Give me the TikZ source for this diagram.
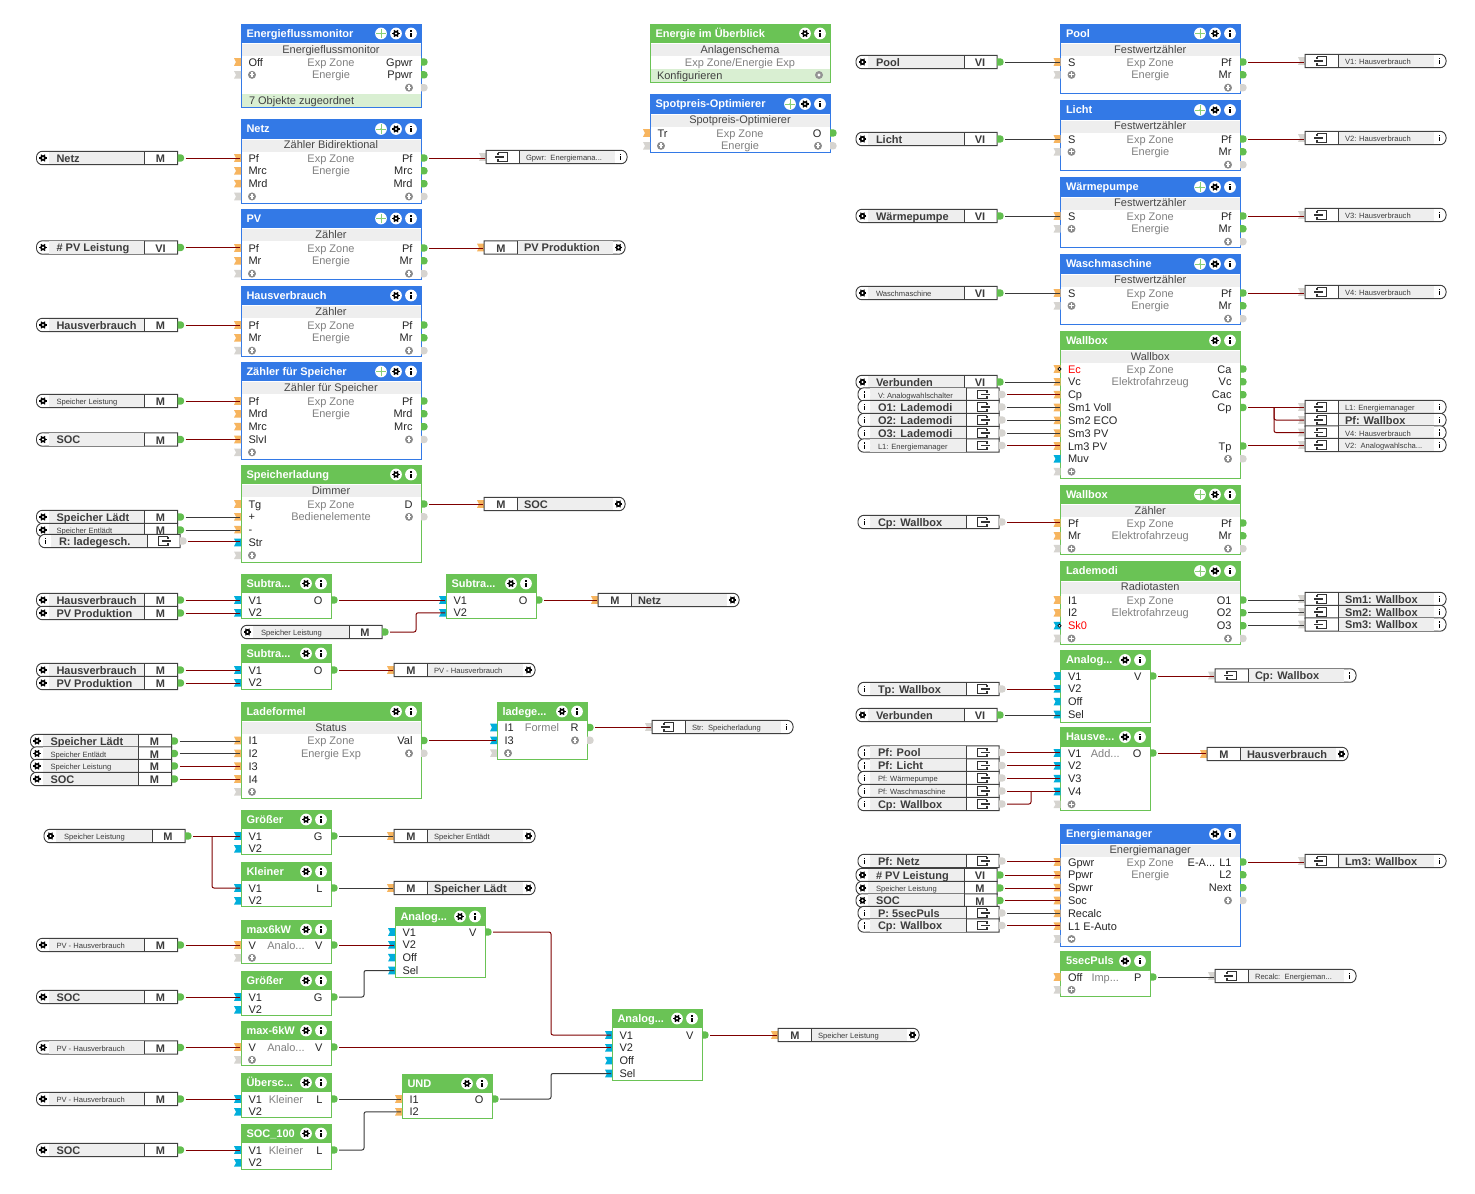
\documentclass[tikz,border=0pt]{standalone}
\usepackage{fontspec}
\setmainfont{Liberation Sans}
\usepackage{amsmath,amssymb}

\definecolor{hdblue}{HTML}{3379E6}
\definecolor{hdgreen}{HTML}{6AC355}
\definecolor{portorange}{HTML}{F7B55F}
\definecolor{portcyan}{HTML}{00AEDB}
\definecolor{portgreen}{HTML}{62BE4F}
\definecolor{portgray}{HTML}{D6D4D0}
\definecolor{bandgray}{HTML}{EEEEEE}
\definecolor{footgreen}{HTML}{D9EFD2}
\definecolor{wirered}{HTML}{7F0000}
\definecolor{wiregray}{HTML}{3A3A3A}
\definecolor{midtext}{HTML}{808080}
\definecolor{tagtext}{HTML}{3C3C3C}
% port kinds: o orange, b cyan, a free (grey), r orange with red label, s cyan with red label
\colorlet{pino}{portorange}\colorlet{pinb}{portcyan}\colorlet{pina}{portgray}
\colorlet{pinr}{portorange}\colorlet{pins}{portcyan}
\colorlet{lblo}{black!85}\colorlet{lblb}{black!85}\colorlet{lbla}{black!85}
\colorlet{lblr}{red}\colorlet{lbls}{red}
\newcommand{\dts}{...}

% small icons
\newcommand{\plusicon}[2]{%
  \fill[black!45] (#1,#2) circle (3pt);
  \fill[white] (#1,#2) +(-1.8pt,-.4pt) rectangle +(1.8pt,.4pt);
  \fill[white] (#1,#2) +(-.4pt,-1.8pt) rectangle +(.4pt,1.8pt);
}
\newcommand{\gearicon}[2]{%
  \fill[white] (#1,#2) circle (4.4pt);
  \fill[black] (#1,#2) circle (2.2pt);
  \draw[black, line width=.8pt] (#1,#2) +(0:2.9pt) -- +(180:2.9pt);
  \draw[black, line width=.8pt] (#1,#2) +(60:2.9pt) -- +(240:2.9pt);
  \draw[black, line width=.8pt] (#1,#2) +(120:2.9pt) -- +(300:2.9pt);
  \fill[white] (#1,#2) circle (.9pt);
}
\newcommand{\infoicon}[2]{%
  \fill[white] (#1,#2) circle (4.4pt);
  \fill[black] (#1,#2) +(-.5pt,-2.3pt) rectangle +(.5pt,.5pt);
  \fill[black] (#1,#2) +(-.5pt,1.3pt) rectangle +(.5pt,2.3pt);
}
\newcommand{\moveicon}[2]{%
  \fill[white] (#1,#2) circle (4.4pt);
  \draw[hdgreen!80, line width=.3pt] (#1,#2) +(-3.4pt,0) -- +(3.4pt,0);
  \draw[hdgreen!80, line width=.3pt] (#1,#2) +(0,-3.4pt) -- +(0,3.4pt);
  \fill[hdgreen!80] (#1,#2) circle (.7pt);
}
\newcommand{\dotport}[3]{%
  \fill[#3] (#1,#2-3.6) [rounded corners=2.2pt] -- (#1+6.5,#2-3.6) -- (#1+6.5,#2+3.6) [sharp corners] -- (#1,#2+3.6) -- cycle;
}
\newcommand{\tagport}[3]{%
  \fill[#3] (#1-7,#2-3.8) -- (#1,#2-3.8) -- (#1,#2+3.8) -- (#1-7,#2+3.8) -- (#1-5,#2) -- cycle;
}

% block: key, left, top, right, bottom, colour, buttons, title, subtitle
\newcommand{\lgblock}[9]{%
  \def\blk{#1}\def\bx{#2}\def\br{#4}\def\bt{#3}
  \pgfmathsetmacro\bc{(#2+#4)/2}
  \fill[white] (#2,#3) rectangle (#4,#5);
  \fill[#6] (#2,#3) rectangle (#4,#3+19);
  \node[blocktitle, anchor=mid west] (#1-title) at (#2+5.5,#3+9.5) {#8};
  \if\relax\detokenize{#9}\relax\else
    \fill[bandgray] (#2,#3+20) rectangle (#4,#3+32);
    \node[blocksub, anchor=mid] (#1-sub) at (\bc,#3+25.5) {#9};
  \fi
  \draw[#6, line width=.75pt] (#2,#3) rectangle (#4,#5);
  \infoicon{#4-10}{#3+9.5}
  \gearicon{#4-25}{#3+9.5}
  \ifnum#7>2 \moveicon{#4-40}{#3+9.5}\fi
}
\newcommand{\inrows}[2]{%
  \foreach \pk/\lab [count=\rw from 1] in {#2}{
    \pgfmathsetmacro\yy{#1+(\rw-1)*12.83}
    \tagport{\bx}{\yy}{pin\pk}
    \coordinate (\blk-i\rw) at (\bx-1,\yy);
    \def\tmpa{a}
    \ifx\pk\tmpa
      \plusicon{\bx+11}{\yy}
    \else
      \node[rowlabel, text=lbl\pk, anchor=mid west] (\blk-il\rw) at (\bx+7.5,\yy) {\lab};
    \fi
  }
}
\newcommand{\outrows}[2]{%
  \foreach \pk/\lab [count=\rw from 1] in {#2}{
    \pgfmathsetmacro\yy{#1+(\rw-1)*12.83}
    \coordinate (\blk-o\rw) at (\br+8,\yy);
    \def\tmpa{a}\def\tmpn{n}
    \ifx\pk\tmpn\else
    \ifx\pk\tmpa
      \dotport{\br}{\yy}{portgray}
      \plusicon{\br-12}{\yy}
    \else
      \dotport{\br}{\yy}{portgreen}
      \node[rowlabel, text=lblo, anchor=mid east] (\blk-ol\rw) at (\br-8.5,\yy) {\lab};
    \fi\fi
  }
}
\newcommand{\midrows}[2]{%
  \foreach \lab [count=\rw from 1] in {#2}{
    \pgfmathsetmacro\yy{#1+(\rw-1)*12.83}
    \node[rowlabel, text=midtext, anchor=mid] (\blk-m\rw) at (\bc,\yy) {\lab};
  }
}
\newcommand{\pinmark}[1]{\filldraw[fill=white, draw=black, line width=.5pt] (\blk-i#1) circle (1.2pt);}

% tags: name, left edge, y, label (and type)
\newcommand{\tagobj}[6][tagbig]{%
  \draw[tagedge, fill=white] (#3+141,#4-6.7) [rounded corners=4.5pt] -- (#3,#4-6.7) -- (#3,#4+6.7) [sharp corners] -- (#3+141,#4+6.7) -- cycle;
  \fill[bandgray] (#3+12,#4-6.2) rectangle (#3+108,#4+6.2);
  \draw[tagedge] (#3+108,#4-6.7) -- (#3+108,#4+6.7);
  \gearicon{#3+6.5}{#4}
  \node[#1, anchor=mid west] (#2-lab) at (#3+20,#4) {#5};
  \node[tagtype] (#2-type) at (#3+124,#4) {#6};
  \dotport{#3+141}{#4}{portgreen}
  \coordinate (#2) at (#3+149,#4);
}
\newcommand{\tagsrc}[5][tagbig]{%
  \draw[tagedge, fill=white] (#3+141,#4-6.7) [rounded corners=4.5pt] -- (#3,#4-6.7) -- (#3,#4+6.7) [sharp corners] -- (#3+141,#4+6.7) -- cycle;
  \fill[bandgray] (#3+12,#4-6.2) rectangle (#3+108,#4+6.2);
  \draw[tagedge] (#3+108,#4-6.7) -- (#3+108,#4+6.7);
  \infoicon{#3+6.5}{#4}
  \node[#1, anchor=mid west] (#2-lab) at (#3+20,#4) {#5};
  \draw[iconline] (#3+129,#4-4.2) -- (#3+119.5,#4-4.2) -- (#3+119.5,#4+4.2) -- (#3+129,#4+4.2) -- (#3+129,#4+1.8);
  \draw[iconline] (#3+123,#4) -- (#3+132,#4);
  \draw[iconline] (#3+129,#4-4.2) -- (#3+129,#4-1.8);
  \dotport{#3+141}{#4}{portgray}
  \coordinate (#2) at (#3+149,#4);
}
\newcommand{\tagin}[5][tagbig]{%
  \tagport{#3}{#4}{portorange}
  \draw[tagedge, fill=white] (#3,#4-6.7) [rounded corners=4.5pt] -- (#3+141,#4-6.7) -- (#3+141,#4+6.7) [sharp corners] -- (#3,#4+6.7) -- cycle;
  \fill[bandgray] (#3+33,#4-6.2) rectangle (#3+129,#4+6.2);
  \draw[tagedge] (#3+33,#4-6.7) -- (#3+33,#4+6.7);
  \gearicon{#3+134.5}{#4}
  \node[tagtype] (#2-type) at (#3+17,#4) {M};
  \node[#1, anchor=mid west] (#2-lab) at (#3+40,#4) {#5};
  \coordinate (#2) at (#3-1,#4);
}
\newcommand{\tagdst}[5][tagbig]{%
  \tagport{#3}{#4}{portgray}
  \draw[tagedge, fill=white] (#3,#4-6.7) [rounded corners=4.5pt] -- (#3+141,#4-6.7) -- (#3+141,#4+6.7) [sharp corners] -- (#3,#4+6.7) -- cycle;
  \fill[bandgray] (#3+33,#4-6.2) rectangle (#3+129,#4+6.2);
  \draw[tagedge] (#3+33,#4-6.7) -- (#3+33,#4+6.7);
  \infoicon{#3+134.5}{#4}
  \draw[iconline] (#3+12,#4-4.2) -- (#3+21.5,#4-4.2) -- (#3+21.5,#4+4.2) -- (#3+12,#4+4.2) -- (#3+12,#4+1.8);
  \draw[iconline] (#3+12,#4-4.2) -- (#3+12,#4-1.8);
  \draw[iconline] (#3+9,#4) -- (#3+18,#4);
  \node[#1, anchor=mid west] (#2-lab) at (#3+40,#4) {#5};
  \coordinate (#2) at (#3-1,#4);
}

\begin{document}
\begin{tikzpicture}[x=0.75pt, y=-0.75pt, inner sep=0pt, outer sep=0pt,
    blocktitle/.style={font=\fontsize{8.25}{9}\selectfont\bfseries, text=white},
    blocksub/.style={font=\fontsize{8.25}{9}\selectfont, text=black!72, yshift=-.3pt},
    rowlabel/.style={font=\fontsize{8.25}{9}\selectfont, yshift=-.4pt},
    tagbig/.style={font=\fontsize{8.25}{9}\selectfont\bfseries, text=tagtext, yshift=-.7pt},
    tagsmall/.style={font=\fontsize{5.7}{6}\selectfont, text=tagtext},
    tagtype/.style={font=\fontsize{8.25}{9}\selectfont\bfseries, text=tagtext, yshift=-.7pt},
    tagedge/.style={draw=black!75, line width=.75pt},
    iconline/.style={draw=black!80, line width=.8pt},
    redwire/.style={draw=wirered, line width=.75pt, rounded corners=1.5pt},
    graywire/.style={draw=wiregray, line width=.75pt, rounded corners=1.5pt}]
  \useasboundingbox (0,0) rectangle (1475,1193);
  \fill[white] (0,0) rectangle (1475,1193);

  % Left column of blocks
  \lgblock{efm}{241}{24}{421}{107}{hdblue}{3}{Energieflussmonitor}{Energieflussmonitor}
  \fill[footgreen] (241.5,94) rectangle (420.5,106.5);
  \inrows{62}{o/Off,a/}
  \outrows{62}{g/Gpwr,g/Ppwr,a/}
  \midrows{62}{Exp Zone,Energie}
  \node[rowlabel, text=black!75, anchor=mid west] (efm-foot) at (249,100.5) {7 Objekte zugeordnet};

  \lgblock{netz}{241}{119.5}{421}{203}{hdblue}{3}{Netz}{Zähler Bidirektional}
  \inrows{158}{o/Pf,o/Mrc,o/Mrd,a/}
  \outrows{158}{g/Pf,g/Mrc,g/Mrd,a/}
  \midrows{158}{Exp Zone,Energie}

  \lgblock{pv}{241}{209}{421}{279.5}{hdblue}{3}{PV}{Zähler}
  \inrows{248}{o/Pf,o/Mr,a/}
  \outrows{248}{g/Pf,g/Mr,a/}
  \midrows{248}{Exp Zone,Energie}

  \lgblock{hv}{241}{286}{421}{356}{hdblue}{2}{Hausverbrauch}{Zähler}
  \inrows{325}{o/Pf,o/Mr,a/}
  \outrows{325}{g/Pf,g/Mr,a/}
  \midrows{325}{Exp Zone,Energie}

  \lgblock{zfs}{241}{362}{421}{459}{hdblue}{3}{Zähler für Speicher}{Zähler für Speicher}
  \inrows{401}{o/Pf,o/Mrd,o/Mrc,o/SlvI,a/}
  \outrows{401}{g/Pf,g/Mrd,g/Mrc,a/}
  \midrows{401}{Exp Zone,Energie}

  \lgblock{spl}{241}{465}{421}{562}{hdgreen}{2}{Speicherladung}{Dimmer}
  \inrows{504}{o/Tg,o/+,o/-,b/Str,a/}
  \outrows{504}{g/D,a/}
  \midrows{504}{Exp Zone,Bedienelemente}

  \lgblock{subA}{241}{574}{331}{618}{hdgreen}{2}{Subtra...}{}
  \inrows{600}{b/V1,b/V2}
  \outrows{600}{g/O}
  \lgblock{subB}{446}{574}{536}{618}{hdgreen}{2}{Subtra...}{}
  \inrows{600}{b/V1,b/V2}
  \outrows{600}{g/O}
  \lgblock{subC}{241}{644}{331}{689}{hdgreen}{2}{Subtra...}{}
  \inrows{670}{b/V1,b/V2}
  \outrows{670}{g/O}

  \lgblock{ladef}{241}{702}{421}{798}{hdgreen}{2}{Ladeformel}{Status}
  \inrows{740.5}{o/I1,o/I2,o/I3,o/I4,a/}
  \outrows{740.5}{g/Val,a/}
  \midrows{740.5}{Exp Zone,Energie Exp}
  \lgblock{ladeg}{497}{702}{587}{759}{hdgreen}{2}{ladege...}{}
  \inrows{727.5}{b/I1,b/I3,a/}
  \outrows{727.5}{g/R,a/}
  \midrows{727.5}{Formel}

  \lgblock{grA}{241}{810}{331}{854}{hdgreen}{2}{Größer}{}
  \inrows{836}{b/V1,b/V2}
  \outrows{836}{g/G}
  \lgblock{klA}{241}{862}{331}{906}{hdgreen}{2}{Kleiner}{}
  \inrows{888}{b/V1,b/V2}
  \outrows{888}{g/L}
  \lgblock{maxP}{241}{920}{331}{963.5}{hdgreen}{2}{max6kW}{}
  \inrows{945}{o/V,a/}
  \outrows{945}{g/V}
  \midrows{945}{Analo\dts}
  \lgblock{grB}{241}{971}{331}{1015}{hdgreen}{2}{Größer}{}
  \inrows{997}{b/V1,b/V2}
  \outrows{997}{g/G}
  \lgblock{maxN}{241}{1021}{331}{1065.5}{hdgreen}{2}{max-6kW}{}
  \inrows{1047}{o/V,a/}
  \outrows{1047}{g/V}
  \midrows{1047}{Analo\dts}
  \lgblock{uebA}{241}{1073}{331}{1117}{hdgreen}{2}{Übersc...}{}
  \inrows{1099}{b/V1,b/V2}
  \outrows{1099}{g/L}
  \midrows{1099}{Kleiner}
  \lgblock{socB}{241}{1124}{331}{1169}{hdgreen}{2}{SOC\_100}{}
  \inrows{1150}{b/V1,b/V2}
  \outrows{1150}{g/L}
  \midrows{1150}{Kleiner}

  \lgblock{anaA}{395}{907}{485}{977}{hdgreen}{2}{Analog...}{}
  \inrows{932}{b/V1,b/V2,b/Off,b/Sel}
  \outrows{932}{g/V}
  \lgblock{und}{402}{1074}{492}{1118}{hdgreen}{2}{UND}{}
  \inrows{1099}{o/I1,o/I2}
  \outrows{1099}{g/O}
  \lgblock{anaB}{612}{1009}{702}{1080}{hdgreen}{2}{Analog...}{}
  \inrows{1035}{b/V1,b/V2,b/Off,b/Sel}
  \outrows{1035}{g/V}

  % Middle column
  \lgblock{ueber}{650}{24}{830}{82}{hdgreen}{2}{Energie im Überblick}{Anlagenschema}
  \fill[footgreen] (650.5,69) rectangle (829.5,81.5);
  \midrows{62}{Exp Zone/Energie Exp}
  \node[rowlabel, text=black!75, anchor=mid west] (ueber-foot) at (657,75) {Konfigurieren};
  \fill[black!42] (819,75) circle (3pt);
  \fill[white] (819,75) circle (1.2pt);

  \lgblock{spot}{650}{94.5}{830}{152}{hdblue}{3}{Spotpreis-Optimierer}{Spotpreis-Optimierer}
  \inrows{133}{o/Tr,a/}
  \outrows{133}{g/O,a/}
  \midrows{133}{Exp Zone,Energie}

  % Right column
  \lgblock{pool}{1060.5}{24}{1240}{93.5}{hdblue}{3}{Pool}{Festwertzähler}
  \inrows{62}{o/S,a/}
  \outrows{62}{g/Pf,g/Mr,a/}
  \midrows{62}{Exp Zone,Energie}
  \lgblock{licht}{1060.5}{100.5}{1240}{170}{hdblue}{3}{Licht}{Festwertzähler}
  \inrows{139}{o/S,a/}
  \outrows{139}{g/Pf,g/Mr,a/}
  \midrows{139}{Exp Zone,Energie}
  \lgblock{wp}{1060.5}{177.5}{1240}{247}{hdblue}{3}{Wärmepumpe}{Festwertzähler}
  \inrows{216}{o/S,a/}
  \outrows{216}{g/Pf,g/Mr,a/}
  \midrows{216}{Exp Zone,Energie}
  \lgblock{wm}{1060.5}{254.5}{1240}{324}{hdblue}{3}{Waschmaschine}{Festwertzähler}
  \inrows{293}{o/S,a/}
  \outrows{293}{g/Pf,g/Mr,a/}
  \midrows{293}{Exp Zone,Energie}

  \lgblock{wbA}{1060.5}{331}{1240}{478}{hdgreen}{2}{Wallbox}{Wallbox}
  \inrows{369}{r/Ec,o/Vc,o/Cp,o/Sm1 Voll,o/Sm2 ECO,o/Sm3 PV,o/Lm3 PV,b/Muv,a/}
  \outrows{369}{g/Ca,g/Vc,g/Cac,g/Cp,n/,n/,g/Tp,a/}
  \midrows{369}{Exp Zone,Elektrofahrzeug}
  \pinmark{1}

  \lgblock{wbB}{1060.5}{485}{1240}{554}{hdgreen}{3}{Wallbox}{Zähler}
  \inrows{523}{o/Pf,o/Mr,a/}
  \outrows{523}{g/Pf,g/Mr,a/}
  \midrows{523}{Exp Zone,Elektrofahrzeug}

  \lgblock{lmod}{1060.5}{561.5}{1240}{644}{hdgreen}{3}{Lademodi}{Radiotasten}
  \inrows{600}{o/I1,o/I2,s/Sk0,a/}
  \outrows{600}{g/O1,g/O2,g/O3,a/}
  \midrows{600}{Exp Zone,Elektrofahrzeug}
  \pinmark{3}

  \lgblock{anaC}{1060.5}{650.5}{1150}{722}{hdgreen}{2}{Analog...}{}
  \inrows{676}{b/V1,b/V2,b/Off,b/Sel}
  \outrows{676}{g/V}
  \lgblock{hausv}{1060.5}{727.5}{1150}{810}{hdgreen}{2}{Hausve...}{}
  \inrows{753}{b/V1,b/V2,b/V3,b/V4,a/}
  \outrows{753}{g/O}
  \midrows{753}{Add\dts}
  \lgblock{emgr}{1060.5}{824.5}{1240}{946}{hdblue}{2}{Energiemanager}{Energiemanager}
  \inrows{862}{o/Gpwr,o/Ppwr,o/Spwr,o/Soc,o/Recalc,o/L1 E-Auto,a/}
  \outrows{862}{g/E-A\dts{} L1,g/L2,g/Next,a/}
  \midrows{862}{Exp Zone,Energie}
  \lgblock{puls}{1060.5}{951.5}{1150}{996}{hdgreen}{2}{5secPuls}{}
  \inrows{977}{o/Off,a/}
  \outrows{977}{g/P}
  \midrows{977}{Imp\dts}

  % Objects left of the left column
  \tagobj{tNetz}{36.5}{158}{Netz}{M}
  \tagobj{tPvL}{36.5}{247.5}{\# PV Leistung}{VI}
  \tagobj{tHv}{36.5}{325}{Hausverbrauch}{M}
  \tagobj[tagsmall]{tSpLa}{36.5}{401}{Speicher Leistung}{M}
  \tagobj{tSocA}{36.5}{439.5}{SOC}{M}
  \tagobj{tLaedtA}{36.5}{517}{Speicher Lädt}{M}
  \tagobj[tagsmall]{tEntA}{36.5}{530}{Speicher Entlädt}{M}
  \tagsrc{tRlade}{39}{541}{R: ladegesch.}
  \tagobj{tHvB}{36.5}{600}{Hausverbrauch}{M}
  \tagobj{tPvB}{36.5}{613}{PV Produktion}{M}
  \tagobj[tagsmall]{tSpLb}{241}{632}{Speicher Leistung}{M}
  \tagobj{tHvC}{36.5}{670}{Hausverbrauch}{M}
  \tagobj{tPvC}{36.5}{683}{PV Produktion}{M}
  \tagobj{tLaedtB}{30.5}{741}{Speicher Lädt}{M}
  \tagobj[tagsmall]{tEntB}{30.5}{753.5}{Speicher Entlädt}{M}
  \tagobj[tagsmall]{tSpLc}{30.5}{766}{Speicher Leistung}{M}
  \tagobj{tSocB}{30.5}{779}{SOC}{M}
  \tagobj[tagsmall]{tSpLd}{44}{836}{Speicher Leistung}{M}
  \tagobj[tagsmall]{tDiffA}{36.5}{945}{PV - Hausverbrauch}{M}
  \tagobj{tSocC}{36.5}{997}{SOC}{M}
  \tagobj[tagsmall]{tDiffB}{36.5}{1047.5}{PV - Hausverbrauch}{M}
  \tagobj[tagsmall]{tDiffC}{36.5}{1099}{PV - Hausverbrauch}{M}
  \tagobj{tSocD}{36.5}{1150}{SOC}{M}

  % Receivers in the left and middle part
  \tagdst[tagsmall]{rGpwr}{486}{157}{Gpwr:\ \ Energiemana...}
  \tagin{rPvP}{484}{247.5}{PV Produktion}
  \tagin{rSoc}{484}{504}{SOC}
  \tagin{rNetz}{598}{600}{Netz}
  \tagin[tagsmall]{rDiff}{394}{670}{PV - Hausverbrauch}
  \tagdst[tagsmall]{rStr}{652}{727}{Str:\ \ Speicherladung}
  \tagin[tagsmall]{rEnt}{394}{836}{Speicher Entlädt}
  \tagin{rLaedt}{394}{888}{Speicher Lädt}
  \tagin[tagsmall]{rSpL}{778}{1035}{Speicher Leistung}

  % Objects left of the right column
  \tagobj{tPool}{856}{62}{Pool}{VI}
  \tagobj{tLicht}{856}{139}{Licht}{VI}
  \tagobj{tWp}{856}{216}{Wärmepumpe}{VI}
  \tagobj[tagsmall]{tWm}{856}{293}{Waschmaschine}{VI}
  \tagobj{tVerbA}{856}{382}{Verbunden}{VI}
  \tagsrc[tagsmall]{tVan}{858}{394.5}{V: Analogwahlschalter}
  \tagsrc{tOa}{858}{407}{O1: Lademodi}
  \tagsrc{tOb}{858}{420}{O2: Lademodi}
  \tagsrc{tOc}{858}{433}{O3: Lademodi}
  \tagsrc[tagsmall]{tLa}{858}{445.5}{L1: Energiemanager}
  \tagsrc{tCpA}{858}{522}{Cp: Wallbox}
  \tagsrc{tTp}{858}{689}{Tp: Wallbox}
  \tagobj{tVerbB}{856}{715}{Verbunden}{VI}
  \tagsrc{tPfPool}{858}{752.5}{Pf: Pool}
  \tagsrc{tPfLicht}{858}{765.5}{Pf: Licht}
  \tagsrc[tagsmall]{tPfWp}{858}{778}{Pf: Wärmepumpe}
  \tagsrc[tagsmall]{tPfWm}{858}{791}{Pf: Waschmaschine}
  \tagsrc{tCpB}{858}{804}{Cp: Wallbox}
  \tagsrc{tPfNetz}{858}{861}{Pf: Netz}
  \tagobj{tPvM}{856}{875}{\# PV Leistung}{VI}
  \tagobj[tagsmall]{tSpLm}{856}{888}{Speicher Leistung}{M}
  \tagobj{tSocM}{856}{900.5}{SOC}{M}
  \tagsrc{tPuls}{858}{913}{P: 5secPuls}
  \tagsrc{tCpC}{858}{925.5}{Cp: Wallbox}

  % Receivers on the right
  \tagdst[tagsmall]{rVa}{1305}{61}{V1: Hausverbrauch}
  \tagdst[tagsmall]{rVb}{1305}{138}{V2: Hausverbrauch}
  \tagdst[tagsmall]{rVc}{1305}{215}{V3: Hausverbrauch}
  \tagdst[tagsmall]{rVd}{1305}{292}{V4: Hausverbrauch}
  \tagdst[tagsmall]{rLe}{1305}{407}{L1: Energiemanager}
  \tagdst{rPfW}{1305}{420}{Pf: Wallbox}
  \tagdst[tagsmall]{rVh}{1305}{432.5}{V4: Hausverbrauch}
  \tagdst[tagsmall]{rVan}{1305}{445}{V2:\ \ Analogwahlscha...}
  \tagdst{rSma}{1305}{599}{Sm1: Wallbox}
  \tagdst{rSmb}{1305}{612}{Sm2: Wallbox}
  \tagdst{rSmc}{1305}{624.5}{Sm3: Wallbox}
  \tagdst{rCp}{1215}{675.5}{Cp: Wallbox}
  \tagin{rHv}{1207}{754}{Hausverbrauch}
  \tagdst{rLm}{1305}{861}{Lm3: Wallbox}
  \tagdst[tagsmall]{rRec}{1215}{976}{Recalc:\ \ Energieman...}

  % Elbow columns
  \coordinate (elbA) at (416,632);
  \coordinate (elbB) at (212,836);
  \coordinate (elbC) at (364,997);
  \coordinate (elbD) at (551,932);
  \coordinate (elbE) at (364,1150);
  \coordinate (elbF) at (551,1099);
  \coordinate (elbG) at (1274,407);
  \coordinate (elbH) at (1031,791);

  % Connections, left part
  \draw[redwire] (tNetz) -- (tNetz -| netz-i1);
  \draw[redwire] (netz-o1) -- (netz-o1 -| rGpwr);
  \draw[redwire] (tPvL) -- (tPvL -| pv-i1);
  \draw[redwire] (pv-o1) -- (pv-o1 -| rPvP);
  \draw[redwire] (tHv) -- (tHv -| hv-i1);
  \draw[redwire] (tSpLa) -- (tSpLa -| zfs-i1);
  \draw[redwire] (tSocA) -- (tSocA -| zfs-i4);
  \draw[graywire] (tLaedtA) -- (tLaedtA -| spl-i2);
  \draw[graywire] (tEntA) -- (tEntA -| spl-i3);
  \draw[redwire] (tRlade) -- (tRlade -| spl-i4);
  \draw[redwire] (spl-o1) -- (spl-o1 -| rSoc);
  \draw[redwire] (tHvB) -- (tHvB -| subA-i1);
  \draw[redwire] (tPvB) -- (tPvB -| subA-i2);
  \draw[redwire] (subA-o1) -- (subA-o1 -| subB-i1);
  \draw[redwire] (tSpLb) -- (elbA) -- (elbA |- subB-i2) -- (subB-i2);
  \draw[redwire] (subB-o1) -- (subB-o1 -| rNetz);
  \draw[redwire] (tHvC) -- (tHvC -| subC-i1);
  \draw[redwire] (tPvC) -- (tPvC -| subC-i2);
  \draw[redwire] (subC-o1) -- (subC-o1 -| rDiff);
  \draw[graywire] (tLaedtB) -- (tLaedtB -| ladef-i1);
  \draw[graywire] (tEntB) -- (tEntB -| ladef-i2);
  \draw[redwire] (tSpLc) -- (tSpLc -| ladef-i3);
  \draw[redwire] (tSocB) -- (tSocB -| ladef-i4);
  \draw[redwire] (ladef-o1) -- (ladef-o1 -| ladeg-i2);
  \draw[redwire] (ladeg-o1) -- (ladeg-o1 -| rStr);
  \draw[redwire] (tSpLd) -- (tSpLd -| grA-i1);
  \draw[redwire] (elbB) -- (elbB |- klA-i1) -- (klA-i1);
  \draw[graywire] (grA-o1) -- (grA-o1 -| rEnt);
  \draw[graywire] (klA-o1) -- (klA-o1 -| rLaedt);
  \draw[redwire] (tDiffA) -- (tDiffA -| maxP-i1);
  \draw[redwire] (maxP-o1) -- (maxP-o1 -| anaA-i2);
  \draw[redwire] (tSocC) -- (tSocC -| grB-i1);
  \draw[graywire] (grB-o1) -- (elbC) -- (elbC |- anaA-i4) -- (anaA-i4);
  \draw[redwire] (anaA-o1) -- (elbD) -- (elbD |- anaB-i1) -- (anaB-i1);
  \draw[redwire] (tDiffB) -- (tDiffB -| maxN-i1);
  \draw[redwire] (maxN-o1) -- (maxN-o1 -| anaB-i2);
  \draw[redwire] (tDiffC) -- (tDiffC -| uebA-i1);
  \draw[graywire] (uebA-o1) -- (uebA-o1 -| und-i1);
  \draw[redwire] (tSocD) -- (tSocD -| socB-i1);
  \draw[graywire] (socB-o1) -- (elbE) -- (elbE |- und-i2) -- (und-i2);
  \draw[graywire] (und-o1) -- (elbF) -- (elbF |- anaB-i4) -- (anaB-i4);
  \draw[redwire] (anaB-o1) -- (anaB-o1 -| rSpL);

  % Connections, right part
  \draw[graywire] (tPool) -- (tPool -| pool-i1);
  \draw[redwire] (pool-o1) -- (pool-o1 -| rVa);
  \draw[graywire] (tLicht) -- (tLicht -| licht-i1);
  \draw[redwire] (licht-o1) -- (licht-o1 -| rVb);
  \draw[graywire] (tWp) -- (tWp -| wp-i1);
  \draw[redwire] (wp-o1) -- (wp-o1 -| rVc);
  \draw[graywire] (tWm) -- (tWm -| wm-i1);
  \draw[redwire] (wm-o1) -- (wm-o1 -| rVd);
  \draw[graywire] (tVerbA) -- (tVerbA -| wbA-i2);
  \draw[redwire] (tVan) -- (tVan -| wbA-i3);
  \draw[graywire] (tOa) -- (tOa -| wbA-i4);
  \draw[graywire] (tOb) -- (tOb -| wbA-i5);
  \draw[graywire] (tOc) -- (tOc -| wbA-i6);
  \draw[redwire] (tLa) -- (tLa -| wbA-i7);
  \draw[redwire] (wbA-o4) -- (wbA-o4 -| rLe);
  \draw[redwire] (elbG) -- (elbG |- rPfW) -- (rPfW);
  \draw[redwire] (elbG) -- (elbG |- rVh) -- (rVh);
  \draw[redwire] (wbA-o7) -- (wbA-o7 -| rVan);
  \draw[redwire] (tCpA) -- (tCpA -| wbB-i1);
  \draw[graywire] (lmod-o1) -- (lmod-o1 -| rSma);
  \draw[graywire] (lmod-o2) -- (lmod-o2 -| rSmb);
  \draw[graywire] (lmod-o3) -- (lmod-o3 -| rSmc);
  \draw[redwire] (tTp) -- (tTp -| anaC-i2);
  \draw[graywire] (tVerbB) -- (tVerbB -| anaC-i4);
  \draw[redwire] (anaC-o1) -- (anaC-o1 -| rCp);
  \draw[redwire] (tPfPool) -- (tPfPool -| hausv-i1);
  \draw[redwire] (tPfLicht) -- (tPfLicht -| hausv-i2);
  \draw[redwire] (tPfWp) -- (tPfWp -| hausv-i3);
  \draw[redwire] (tPfWm) -- (tPfWm -| hausv-i4);
  \draw[redwire] (tCpB) -- (tCpB -| elbH) -- (elbH);
  \draw[redwire] (hausv-o1) -- (hausv-o1 -| rHv);
  \draw[redwire] (tPfNetz) -- (tPfNetz -| emgr-i1);
  \draw[redwire] (tPvM) -- (tPvM -| emgr-i2);
  \draw[redwire] (tSpLm) -- (tSpLm -| emgr-i3);
  \draw[redwire] (tSocM) -- (tSocM -| emgr-i4);
  \draw[graywire] (tPuls) -- (tPuls -| emgr-i5);
  \draw[redwire] (tCpC) -- (tCpC -| emgr-i6);
  \draw[redwire] (emgr-o1) -- (emgr-o1 -| rLm);
  \draw[graywire] (puls-o1) -- (puls-o1 -| rRec);
\end{tikzpicture}
\end{document}
